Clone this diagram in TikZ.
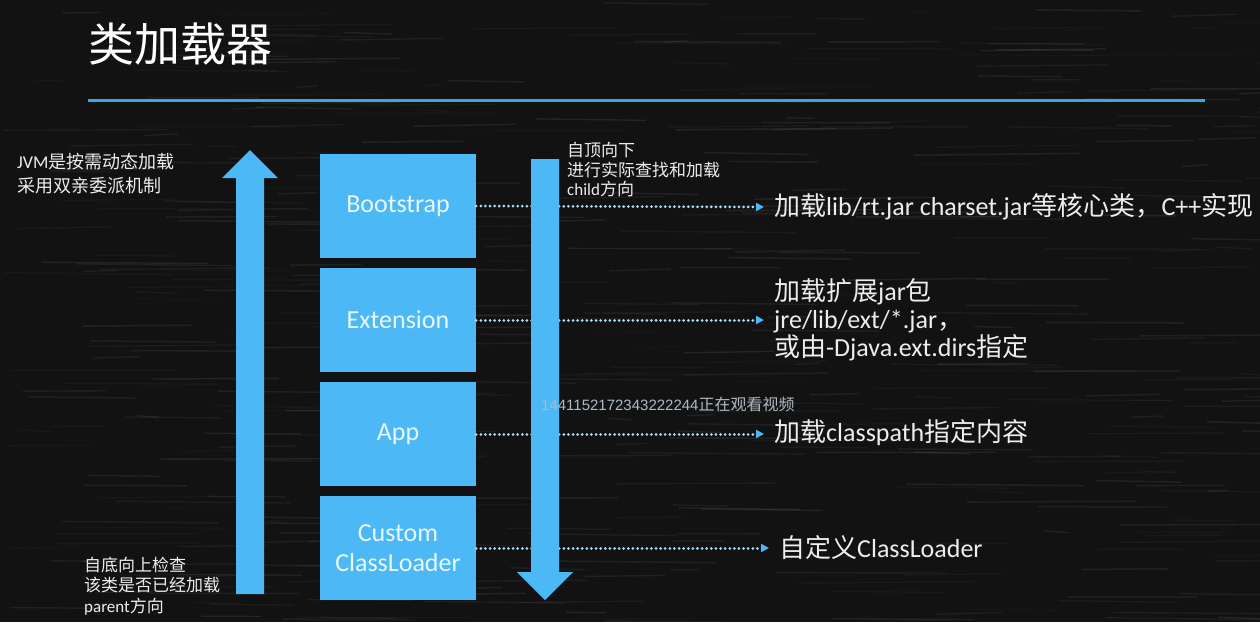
\documentclass[tikz,border=0pt]{standalone}
\usepackage{fontspec}
\setmainfont{Carlito}
\newfontfamily\cjkfont{Noto Sans CJK SC}
\newfontfamily\markfont{Liberation Sans}
\usetikzlibrary{arrows.meta}
\definecolor{board}{HTML}{121212}
\definecolor{loaderblue}{HTML}{4DB8F6}
\definecolor{ruleblue}{HTML}{3BA6E2}
\definecolor{dotblue}{HTML}{A6DAF6}
\definecolor{boxtext}{HTML}{E8F8FF}
\definecolor{chalk}{HTML}{EDEDED}
\definecolor{marktext}{HTML}{AEB9C4}
\newcommand\zh[1]{{\cjkfont #1}}
\begin{document}
\begin{tikzpicture}[x=1pt,y=-1pt,
  loader/.style={fill=loaderblue, text=boxtext, minimum width=156pt,
    minimum height=104pt, inner sep=0pt, align=center,
    font=\fontsize{26}{30}\selectfont},
  desc/.style={anchor=west, text=chalk, align=left, inner xsep=10pt,
    inner ysep=0pt, font=\fontsize{26}{28}\selectfont},
  note/.style={anchor=west, text=chalk, align=left, inner sep=0pt},
  flow/.style={dotblue, line width=3pt, line cap=round,
    dash pattern=on 0.01pt off 4.6pt,
    -{Triangle[length=8pt,width=8pt,color=loaderblue]}},
  blockarrow/.style={fill=loaderblue}]

% chalkboard
\fill[board] (0,0) rectangle (1260,622);
\useasboundingbox (0,0) rectangle (1260,622);
\pgfmathsetseed{4242}
\foreach \k in {1,...,420}{
  \pgfmathsetmacro\sx{rnd*1260}
  \pgfmathsetmacro\sy{rnd*622}
  \pgfmathsetmacro\sl{20+rnd*160}
  \pgfmathsetmacro\so{0.02+0.06*rnd}
  \pgfmathsetmacro\sd{rnd*4-2}
  \draw[white, opacity=\so, line width=1.4pt] (\sx,\sy) -- ++(\sl,\sd);
}

% title and rule
\node[anchor=west, inner sep=0pt, text=white,
  font=\cjkfont\fontsize{46}{46}\selectfont] (title) at (88,44) {类加载器};
\draw[ruleblue, line width=3pt] (88,100) -- (1205,100);

% loader stack
\node[loader] (boot) at (398,206) {Bootstrap};
\node[loader] (ext)  at (398,320) {Extension};
\node[loader] (app)  at (398,434) {App};
\node[loader] (cust) at (398,548) {Custom\\ClassLoader};

% descriptions
\node[desc] (d1) at (764,207) {\zh{加载}lib/rt.jar charset.jar\zh{等核心类，}C++\zh{实现}};
\node[desc] (d2) at (764,320) {\zh{加载扩展}jar\zh{包}\\jre/lib/ext/*.jar\zh{，}\\\zh{或由}-Djava.ext.dirs\zh{指定}};
\node[desc] (d3) at (764,433) {\zh{加载}classpath\zh{指定内容}};
\node[desc] (d4) at (769,548) {\zh{自定义}ClassLoader};

\draw[flow] (boot.east) -- (d1.west);
\draw[flow] (ext.east)  -- (d2.west |- ext.east);
\draw[flow] (app.east)  -- (d3.west |- app.east);
\draw[flow] (cust.east) -- (d4.west);

% parent direction (upwards)
\fill[blockarrow] (236,594) -- (236,178) -- (222,178) -- (250,150)
  -- (278,178) -- (264,178) -- (264,594) -- cycle;
% child direction (downwards)
\fill[blockarrow] (531,159) -- (559,159) -- (559,572) -- (573,572)
  -- (545,600) -- (517,572) -- (531,572) -- cycle;

% notes
\node[note, font=\fontsize{18}{24}\selectfont] (jvm) at (17,174)
  {JVM\zh{是按需动态加载}\\\zh{采用双亲委派机制}};
\node[note, font=\fontsize{17}{19.5}\selectfont] (down) at (567,170)
  {\zh{自顶向下}\\\zh{进行实际查找和加载}\\child\zh{方向}};
\node[note, font=\fontsize{17}{20.5}\selectfont] (up) at (84,586)
  {\zh{自底向上检查}\\\zh{该类是否已经加载}\\parent\zh{方向}};

% viewer mark
\node[anchor=west, inner sep=0pt, text=marktext] (mark) at (541,404)
  {\markfont\fontsize{15}{15}\selectfont 1441152172343222244{\cjkfont\fontsize{16}{16}\selectfont 正在观看视频}};
\end{tikzpicture}
\end{document}
